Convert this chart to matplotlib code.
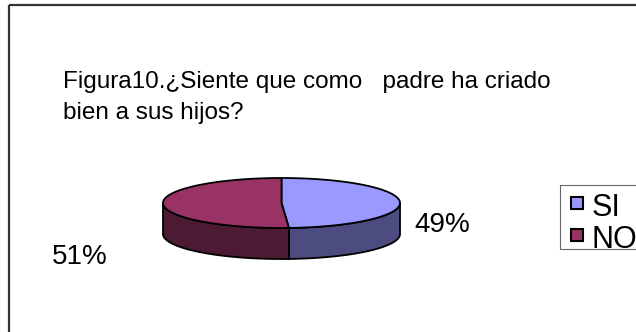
import numpy as np
import matplotlib.pyplot as plt
from matplotlib.patches import Polygon, Rectangle

plt.rcParams['font.family'] = ['Liberation Sans', 'DejaVu Sans']

categories = ["SI", "NO"]
values = [49, 51]
top_colors = ["#9999FF", "#993366"]
side_colors = ["#4C4C80", "#4D1A33"]

title_lines = ["Figura10.¿Siente que como   padre ha criado",
               "bien a sus hijos?"]

W, H = 636, 332
fig = plt.figure(figsize=(W / 100, H / 100), dpi=100)
ax = fig.add_axes([0, 0, 1, 1])
ax.set_xlim(0, W)
ax.set_ylim(H, 0)
ax.axis("off")

# outer chart border (runs off the right/bottom edge)
ax.add_patch(Rectangle((9, 5), 700, 400, fill=False, ec="#333333", lw=1.6))

ax.text(63, 88, title_lines[0], fontsize=17.5, va="baseline", ha="left")
ax.text(63, 119, title_lines[1], fontsize=17.5, va="baseline", ha="left")

# flat 3d pie: ellipse top plus extruded front rim
cx, cy, rx, ry, depth = 281.5, 203, 118.5, 25, 31


def pt(theta, dy=0.0):
    t = np.radians(theta)
    return cx + rx * np.cos(t), cy - ry * np.sin(t) + dy


fracs = np.array(values, dtype=float) / sum(values)
starts = 90 - 360 * np.concatenate([[0], np.cumsum(fracs)[:-1]])
ends = starts - 360 * fracs

# rim pieces first (only the part facing the viewer, angles 180..360)
for s, e, col in zip(starts, ends, side_colors):
    lo, hi = min(s, e), max(s, e)
    for shift in (-360, 0, 360):
        a, b = max(lo + shift, 180), min(hi + shift, 360)
        if b <= a:
            continue
        th = np.linspace(a, b, 80)
        top = [pt(t) for t in th]
        bot = [pt(t, depth) for t in th[::-1]]
        ax.add_patch(Polygon(top + bot, closed=True, fc=col, ec="black", lw=1.3))

# top wedges
for s, e, col in zip(starts, ends, top_colors):
    th = np.linspace(s, e, 160)
    verts = [(cx, cy)] + [pt(t) for t in th]
    ax.add_patch(Polygon(verts, closed=True, fc=col, ec="black", lw=1.3))

# percentage labels
label_pos = [(442, 225), (80, 257)]
for v, (lx, ly) in zip(values, label_pos):
    ax.text(lx, ly, f"{v}%", fontsize=20, ha="center", va="center")

# legend box, clipped at the figure edge
frame = Rectangle((560, 185), 200, 64, fill=False, ec="#666666", lw=0.8)
ax.add_patch(frame)
for i, (name, col) in enumerate(zip(categories, top_colors)):
    y0 = 197 + i * 32
    ax.add_patch(Rectangle((571, y0), 12, 12, fc=col, ec="black", lw=1.5))
    t = ax.text(592, y0 + 19, name, fontsize=22, ha="left", va="baseline")
    t.set_clip_path(frame)

fig.savefig("out.png", dpi=100)
